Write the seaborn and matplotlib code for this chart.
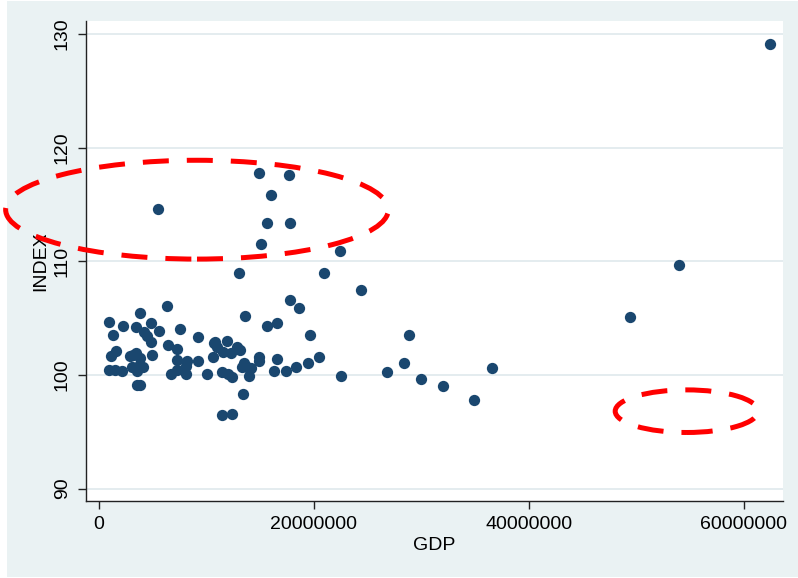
import matplotlib
matplotlib.use("Agg")
import matplotlib.pyplot as plt
from matplotlib.patches import Ellipse, Rectangle
import seaborn as sns
import pandas as pd

# GDP (in millions) and INDEX for each observation
gdp_millions = [
    0.99, 2.29, 3.84, 3.47, 4.84, 4.24, 4.47, 5.58, 7.56, 1.30,
    4.84, 6.38, 9.27, 6.47, 7.26, 1.58, 1.12, 2.91, 3.47, 4.99,
    3.84, 7.26, 8.24, 9.24, 3.07, 3.53, 4.09, 8.12, 0.99, 1.52,
    2.14, 3.53, 6.70, 7.26, 8.12, 10.05, 3.53, 3.84, 3.20,
    10.85, 11.96, 10.98, 12.89, 13.14, 11.59, 12.31, 10.60, 14.88, 14.88,
    13.52, 13.83, 14.14, 13.36, 11.44, 12.00, 12.37, 14.01, 13.40, 11.44,
    12.37, 13.61, 10.72,
    15.63, 16.56, 17.80, 18.66, 19.66, 20.49, 16.61, 19.50, 16.31, 17.42,
    18.35, 22.51, 26.79, 28.90, 28.40, 29.95, 32.06, 34.91, 36.59, 24.43,
    20.96, 22.45, 13.08, 15.13, 15.68, 17.80, 16.00, 14.94, 17.73, 5.48,
    49.43, 54.00, 62.45,
]
index_values = [
    104.69, 104.31, 105.43, 104.20, 104.55, 103.81, 103.43, 103.90, 104.02, 103.52,
    102.93, 106.10, 103.32, 102.64, 102.26, 102.14, 101.67, 101.67, 101.96, 101.73,
    101.47, 101.32, 101.26, 101.20, 100.73, 100.68, 100.68, 100.79, 100.44, 100.44,
    100.33, 100.38, 100.09, 100.44, 100.09, 100.09, 99.12, 99.12, 101.80,
    102.93, 103.02, 102.49, 102.49, 102.20, 102.05, 101.91, 101.61, 101.61, 101.26,
    101.03, 100.68, 100.59, 100.73, 100.24, 100.06, 99.80, 99.91, 98.33, 96.51,
    96.57, 105.22, 102.79,
    104.31, 104.55, 106.60, 105.90, 103.52, 101.61, 101.38, 101.03, 100.38, 100.38,
    100.68, 99.91, 100.29, 103.52, 101.03, 99.62, 99.03, 97.80, 100.59, 107.48,
    109.00, 110.90, 109.00, 111.50, 113.41, 113.41, 115.81, 117.81, 117.63, 114.60,
    105.13, 109.70, 129.10,
]

x_ticks = [0, 20000000, 40000000, 60000000]
y_ticks = [90, 100, 110, 120, 130]

df = pd.DataFrame({"GDP": [v * 1e6 for v in gdp_millions], "INDEX": index_values})

bg = "#EAF2F3"
navy = "#1A476F"

sns.set_theme(style="white")
plt.rcParams["font.family"] = ["Liberation Sans", "DejaVu Sans"]

fig = plt.figure(figsize=(7.98, 5.78), dpi=100, facecolor="white")
# outer graph region, kept behind the axes
fig.patches.append(Rectangle((7 / 798, 1 / 578), 791 / 798, 576 / 578,
                             transform=fig.transFigure, facecolor=bg,
                             edgecolor="none", zorder=-10))

ax = fig.add_axes([86 / 798, 77.3 / 578, 697 / 798, 479.7 / 578])
ax.set_facecolor("white")

sns.scatterplot(data=df, x="GDP", y="INDEX", ax=ax, color=navy, s=66,
                edgecolor=navy, linewidth=0, zorder=3, legend=False)

ax.set_xlim(-1.181e6, 63.66e6)
ax.set_ylim(88.93, 131.16)

ax.set_xticks(x_ticks)
ax.set_xticklabels([str(t) for t in x_ticks])
ax.set_yticks(y_ticks)
ax.set_yticklabels([str(t) for t in y_ticks], rotation=90, va="center")

ax.grid(False)
for t in y_ticks:
    ax.axhline(t, color="#E4ECEF", linewidth=1.4, zorder=1)

for side in ("top", "right"):
    ax.spines[side].set_visible(False)
for side in ("left", "bottom"):
    ax.spines[side].set_color("#222222")
    ax.spines[side].set_linewidth(1.0)

ax.tick_params(axis="both", direction="out", length=6, width=1.0,
               color="#222222", labelsize=14, labelcolor="black", pad=5,
               left=True, bottom=True)

ax.set_xlabel("GDP", fontsize=14, color="black", labelpad=3)
ax.set_ylabel("INDEX", fontsize=14, color="black", labelpad=3)

# highlighted regions
ell_style = dict(fill=False, edgecolor="#FF0000", linewidth=3.6,
                 linestyle=(0, (5.2, 3.6)), clip_on=False, zorder=4)
ax.add_patch(Ellipse((9.144e6, 114.55), 35.6e6, 8.7, **ell_style))
ax.add_patch(Ellipse((54.70e6, 96.81), 13.3e6, 3.75, **ell_style))

fig.savefig("out.png", dpi=100, facecolor=fig.get_facecolor())
